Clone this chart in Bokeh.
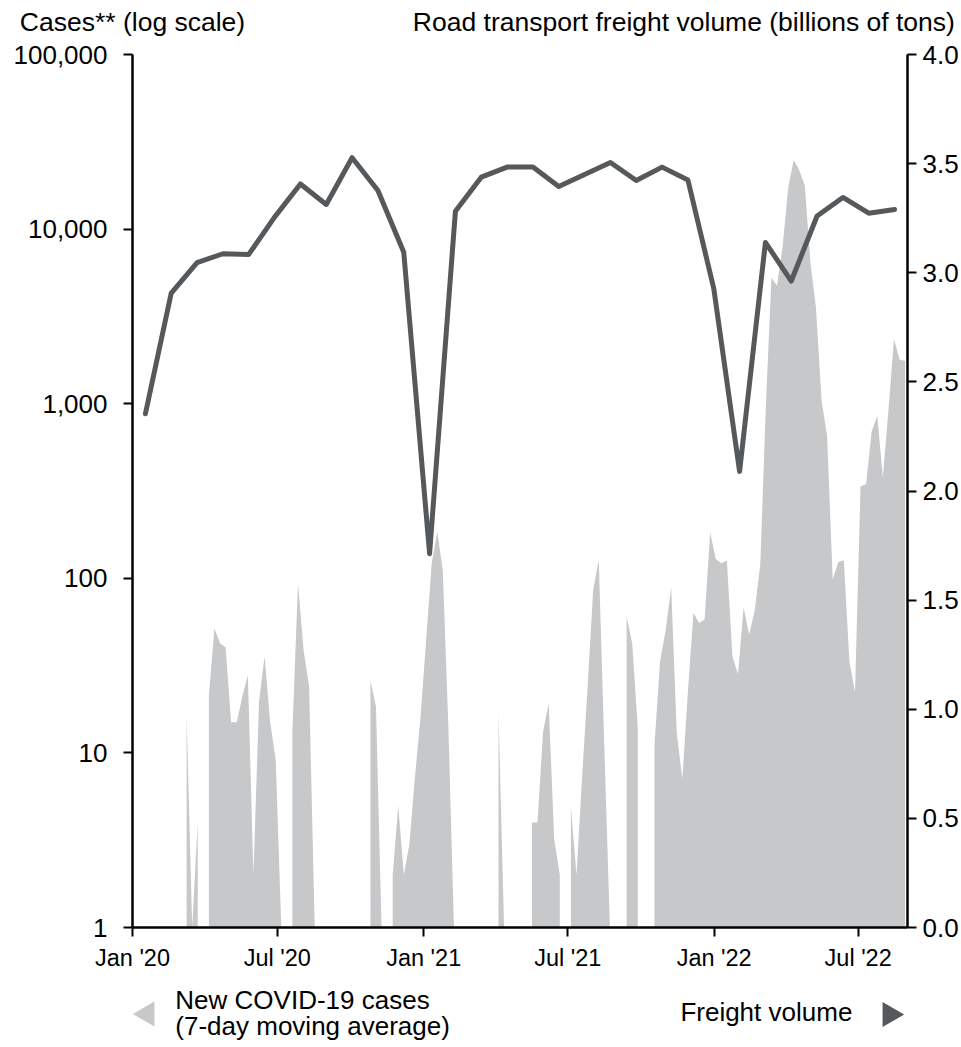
import pandas as pd
from bokeh.plotting import figure
from bokeh.layouts import column
from bokeh.models import Range1d, LinearAxis, FixedTicker, LinearScale
from bokeh.core.properties import value
from bokeh.embed import file_html
from bokeh.resources import INLINE

# ---------------- data ----------------
# weekly samples of the 7-day moving average of new COVID-19 cases (0 = no cases)
case_first_week = "2020-01-06"
case_values = [
    0, 0, 0, 0, 0, 0, 0, 0, 0, 16.8,
    1, 4.0, 0, 21.4, 51.6, 42.4, 40.2, 15.0, 15.0, 21,
    27.9, 2.0, 19.6, 35.8, 15.0, 9.1, 1, 0, 13.5, 93.5,
    38.7, 23.9, 1, 0, 0, 0, 0, 0, 0, 0,
    0, 0, 26.1, 18.3, 1, 0, 2.0, 5.0, 2.0, 3.0,
    7.3, 16.1, 44, 122, 185, 111, 14, 1, 0, 0,
    0, 0, 0, 0, 0, 16.8, 1, 0, 0, 0,
    0, 4.0, 4.0, 13.2, 19.2, 3.2, 2.0, 0, 4.9, 2.0,
    7.2, 24, 86, 127, 10.8, 1, 0, 0, 60.2, 42.4,
    14, 0, 0, 11.0, 33.4, 50.1, 88.9, 13.0, 7.1, 22.3,
    63.4, 55.4, 58.1, 183, 129, 122, 126, 35.8, 28.2, 68,
    47.5, 65.6, 120, 975, 5260, 4760, 7890, 17170, 24890, 21700,
    17740, 6450, 3520, 1043, 650, 98.5, 124, 127, 33.4, 22.3,
    336, 347, 696, 851, 379, 912, 2344, 1790, 1754,
]

# monthly road transport freight volume (billions of tons), Mar 2020 - Aug 2022
freight_months = list(pd.period_range("2020-03", periods=30, freq="M").strftime("%b %Y"))
freight_values = [
    2.354, 2.907, 3.046, 3.087, 3.084, 3.255, 3.407, 3.313, 3.527, 3.377,
    3.094, 1.713, 3.282, 3.438, 3.484, 3.484, 3.395, 3.450, 3.505, 3.423,
    3.484, 3.425, 2.928, 2.090, 3.139, 2.962, 3.260, 3.345, 3.273, 3.290,
]

x_tick_dates = ["2020-01-01", "2020-07-01", "2021-01-01", "2021-07-01", "2022-01-01", "2022-07-01"]
x_tick_labels = ["Jan '20", "Jul '20", "Jan '21", "Jul '21", "Jan '22", "Jul '22"]
case_ticks = [1, 10, 100, 1000, 10000, 100000]
case_tick_labels = ["1", "10", "100", "1,000", "10,000", "100,000"]
freight_ticks = [0.0, 0.5, 1.0, 1.5, 2.0, 2.5, 3.0, 3.5, 4.0]
freight_tick_labels = ["0.0", "0.5", "1.0", "1.5", "2.0", "2.5", "3.0", "3.5", "4.0"]

axis_titles = ["Cases** (log scale)", "Road transport freight volume (billions of tons)"]
legend_texts = ["New COVID-19 cases", "(7-day moving average)", "Freight volume"]

# ---------------- styles / layout ----------------
AREA = "#c7c8ca"
LINE = "#55595c"
FONT = "Liberation Sans"
W = 961
FRAME_L, FRAME_R = 132, 910          # page x of the plot frame
MAIN_H, LEG_H = 975, 72


def ms(d):
    return (pd.Timestamp(d) - pd.Timestamp("1970-01-01")) / pd.Timedelta(milliseconds=1)


week_ms = [ms(d) for d in pd.date_range(case_first_week, periods=len(case_values), freq="7D")]

# split the area into separate polygons wherever there are no cases
xs_list, ys_list, run = [], [], []
for xv, v in list(zip(week_ms, case_values)) + [(None, 0)]:
    if v > 0:
        run.append((xv, v))
    elif run:
        xs_list.append([run[0][0]] + [r[0] for r in run] + [run[-1][0]])
        ys_list.append([1] + [r[1] for r in run] + [1])
        run = []

p = figure(width=W, height=MAIN_H, x_axis_type="datetime", y_axis_type="log",
           x_range=Range1d(ms("2020-01-01"), ms("2022-09-01")),
           y_range=Range1d(1, 100000),
           output_backend="svg", toolbar_location=None, title=None,
           min_border_left=FRAME_L, min_border_right=W - FRAME_R, min_border_top=54,
           min_border_bottom=48)
p.outline_line_color = None
p.grid.visible = False
p.background_fill_color = "white"
p.border_fill_color = "white"

# the freight series sits on its own monthly (category-like) x range and a linear y range
month_index = list(range(len(freight_months)))
p.extra_x_ranges = {"months": Range1d(-0.5, len(freight_months) - 0.5),
                    "page": Range1d(FRAME_L, FRAME_R)}
p.extra_y_ranges = {"freight": Range1d(0, 4)}
p.extra_y_scales = {"freight": LinearScale()}

p.patches(xs=xs_list, ys=ys_list, fill_color=AREA, line_color=None)

p.line(x=month_index, y=freight_values, x_range_name="months", y_range_name="freight",
       line_color=LINE, line_width=5, line_join="round", line_cap="round")

right_axis = LinearAxis(y_range_name="freight")
p.add_layout(right_axis, "right")

p.xaxis.ticker = FixedTicker(ticks=[ms(d) for d in x_tick_dates])
p.xaxis.major_label_overrides = {ms(d): lab for d, lab in zip(x_tick_dates, x_tick_labels)}
p.yaxis[0].ticker = FixedTicker(ticks=case_ticks)
p.yaxis[0].major_label_overrides = dict(zip(case_ticks, case_tick_labels))
right_axis.ticker = FixedTicker(ticks=freight_ticks)
right_axis.major_label_overrides = dict(zip(freight_ticks, freight_tick_labels))

for ax in [p.xaxis[0], p.yaxis[0], right_axis]:
    ax.axis_line_color = "black"
    ax.axis_line_width = 2.5
    ax.major_tick_line_color = "black"
    ax.major_tick_line_width = 2
    ax.major_tick_out = 9
    ax.major_tick_in = 0
    ax.minor_tick_line_color = None
    ax.major_label_text_font = FONT
    ax.major_label_text_font_size = "26px"
    ax.major_label_text_color = "black"
p.xaxis.major_label_text_font_size = "23.5px"
p.xaxis.major_label_standoff = 8
p.yaxis[0].major_label_standoff = 16
right_axis.major_label_standoff = 6

# axis titles above the frame, drawn as labels of a bare axis
title_pos = [FRAME_L, 685.5]
head_axis = LinearAxis(x_range_name="page", ticker=FixedTicker(ticks=title_pos),
                       major_label_overrides=dict(zip(title_pos, axis_titles)))
head_axis.axis_line_color = None
head_axis.major_tick_line_color = None
head_axis.minor_tick_line_color = None
head_axis.major_tick_out = 0
head_axis.major_tick_in = 0
head_axis.major_label_standoff = 18
head_axis.major_label_text_font = FONT
head_axis.major_label_text_font_size = "26.5px"
head_axis.major_label_text_color = "black"
p.add_layout(head_axis, "above")

# ---------------- legend (its frame lines up with the chart frame) ----------------
leg = figure(width=W, height=LEG_H, x_range=Range1d(FRAME_L, FRAME_R), y_range=Range1d(0, LEG_H),
             output_backend="svg", toolbar_location=None, title=None,
             x_axis_location=None, y_axis_location=None, min_border=0)
leg.outline_line_color = None
leg.grid.visible = False
leg.border_fill_color = "white"
leg.background_fill_color = "white"
leg.text(x=[175, 175, 682], y=[47.5, 22, 35.5], text=legend_texts,
         text_align="left", text_baseline="alphabetic", text_font=value(FONT),
         text_font_size=value("26px"), text_color="black")
leg.scatter(x=[146.8, 892.2], y=[33.5, 33], marker="triangle", size=25,
            angle=[1.5708, -1.5708], fill_color=[AREA, LINE], line_color=None)

layout = column(p, leg, spacing=0)
open("out.html", "w").write(file_html(layout, INLINE))
